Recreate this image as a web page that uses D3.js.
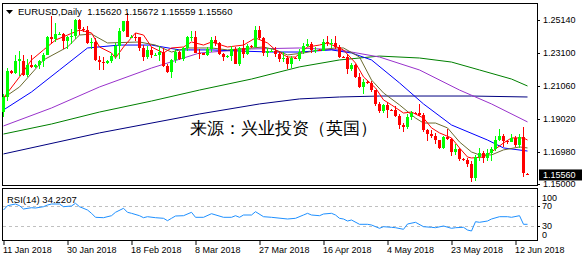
<!DOCTYPE html>
<html>
<head>
<meta charset="utf-8">
<script src="https://cdn.jsdelivr.net/npm/d3@7"></script>
<style>
  body { margin: 0; background: #fff; }
  text { font-family: "Liberation Sans", Arial, sans-serif; }
</style>
</head>
<body>
<svg id="chart" width="582" height="260"></svg>
<script>
// daily EURUSD bars, 11 Jan 2018 .. 15 Jun 2018 (broker has Sunday bars)
const opens = [1.1945,1.2035,1.2198,1.2188,1.2263,1.2262,1.2177,1.2236,1.2221,1.2235,1.2260,1.2300,1.2407,1.2395,1.2427,1.2430,1.2383,1.2409,1.2414,1.2512,
  1.2461,1.2450,1.2369,1.2377,1.2264,1.2252,1.2250,1.2260,1.2291,1.2352,1.2449,1.2506,1.2407,1.2410,1.2409,1.2340,1.2286,1.2328,1.2295,1.2300,
  1.2317,1.2232,1.2194,1.2267,1.2317,1.2275,1.2339,1.2407,1.2410,1.2313,1.2307,1.2300,1.2336,1.2389,1.2369,1.2302,1.2287,1.2290,1.2337,1.2239,
  1.2340,1.2302,1.2352,1.2350,1.2450,1.2405,1.2310,1.2321,1.2325,1.2302,1.2270,1.2276,1.2240,1.2281,1.2275,1.2319,1.2355,1.2368,1.2327,1.2330,
  1.2325,1.2381,1.2371,1.2374,1.2347,1.2288,1.2285,1.2210,1.2234,1.2164,1.2102,1.2130,1.2125,1.2079,1.1993,1.1953,1.1987,1.1959,1.1955,1.1922,
  1.1865,1.1853,1.1917,1.1942,1.1940,1.1925,1.1836,1.1809,1.1795,1.1770,1.1725,1.1791,1.1778,1.1697,1.1719,1.1652,1.1650,1.1623,1.1538,1.1664,
  1.1693,1.1659,1.1694,1.1719,1.1774,1.1799,1.1767,1.1760,1.1782,1.1743,1.1793,1.1562];
const highs = [1.2059,1.2219,1.2203,1.2297,1.2323,1.2296,1.2272,1.2296,1.2240,1.2266,1.2308,1.2415,1.2537,1.2494,1.2440,1.2436,1.2414,1.2459,1.2520,1.2520,
  1.2470,1.2477,1.2403,1.2401,1.2294,1.2288,1.2266,1.2310,1.2370,1.2465,1.2510,1.2555,1.2420,1.2435,1.2410,1.2361,1.2353,1.2345,1.2310,1.2355,
  1.2338,1.2245,1.2273,1.2336,1.2320,1.2345,1.2413,1.2447,1.2446,1.2336,1.2310,1.2345,1.2409,1.2413,1.2377,1.2309,1.2295,1.2356,1.2345,1.2350,
  1.2388,1.2363,1.2360,1.2476,1.2477,1.2406,1.2340,1.2335,1.2345,1.2316,1.2316,1.2291,1.2294,1.2285,1.2333,1.2373,1.2396,1.2376,1.2346,1.2335,
  1.2396,1.2414,1.2398,1.2414,1.2359,1.2292,1.2301,1.2250,1.2240,1.2189,1.2147,1.2135,1.2139,1.2084,1.2010,1.1996,1.2009,1.1965,1.1980,1.1930,
  1.1875,1.1934,1.1954,1.1945,1.1997,1.1938,1.1841,1.1833,1.1815,1.1775,1.1795,1.1838,1.1782,1.1750,1.1724,1.1660,1.1660,1.1640,1.1680,1.1723,
  1.1704,1.1718,1.1726,1.1796,1.1840,1.1809,1.1775,1.1810,1.1795,1.1810,1.1852,1.15672];
const lows = [1.1916,1.2013,1.2180,1.2181,1.2166,1.2165,1.2161,1.2216,1.2215,1.2212,1.2225,1.2295,1.2366,1.2380,1.2420,1.2337,1.2336,1.2368,1.2395,1.2423,
  1.2440,1.2368,1.2334,1.2258,1.2206,1.2205,1.2245,1.2247,1.2275,1.2272,1.2437,1.2406,1.2400,1.2383,1.2322,1.2260,1.2275,1.2278,1.2290,1.2262,
  1.2221,1.2188,1.2155,1.2247,1.2265,1.2260,1.2320,1.2386,1.2310,1.2272,1.2295,1.2290,1.2318,1.2355,1.2295,1.2258,1.2280,1.2260,1.2240,1.2231,
  1.2281,1.2296,1.2340,1.2345,1.2392,1.2291,1.2286,1.2315,1.2283,1.2254,1.2255,1.2214,1.2215,1.2270,1.2262,1.2305,1.2346,1.2307,1.2311,1.2320,
  1.2320,1.2355,1.2339,1.2337,1.2276,1.2280,1.2183,1.2196,1.2155,1.2093,1.2054,1.2120,1.2071,1.1984,1.1938,1.1937,1.1910,1.1950,1.1913,1.1838,
  1.1822,1.1838,1.1898,1.1935,1.1921,1.1821,1.1763,1.1782,1.1750,1.1715,1.1715,1.1771,1.1676,1.1677,1.1643,1.1640,1.1605,1.1510,1.1520,1.1640,
  1.1632,1.1645,1.1644,1.1707,1.1766,1.1726,1.1750,1.1757,1.1729,1.1725,1.1542,1.15559];
const closes = [1.2035,1.2198,1.2188,1.2263,1.2270,1.2177,1.2236,1.2221,1.2235,1.2260,1.2300,1.2407,1.2395,1.2427,1.2430,1.2383,1.2409,1.2414,1.2512,1.2461,
  1.2450,1.2369,1.2377,1.2264,1.2252,1.2250,1.2260,1.2291,1.2352,1.2449,1.2506,1.2407,1.2410,1.2409,1.2340,1.2286,1.2328,1.2295,1.2300,1.2317,
  1.2232,1.2194,1.2267,1.2317,1.2275,1.2339,1.2407,1.2410,1.2313,1.2307,1.2300,1.2336,1.2389,1.2369,1.2302,1.2287,1.2290,1.2337,1.2239,1.2340,
  1.2302,1.2352,1.2350,1.2450,1.2405,1.2310,1.2321,1.2325,1.2302,1.2270,1.2276,1.2240,1.2281,1.2275,1.2319,1.2355,1.2368,1.2327,1.2330,1.2325,
  1.2381,1.2371,1.2374,1.2347,1.2288,1.2285,1.2210,1.2234,1.2164,1.2102,1.2130,1.2125,1.2079,1.1993,1.1953,1.1987,1.1959,1.1955,1.1922,1.1865,
  1.1853,1.1917,1.1942,1.1940,1.1925,1.1836,1.1809,1.1795,1.1770,1.1725,1.1791,1.1778,1.1697,1.1719,1.1652,1.1650,1.1623,1.1538,1.1664,1.1693,
  1.1659,1.1694,1.1719,1.1774,1.1799,1.1767,1.1760,1.1782,1.1743,1.1793,1.1567,1.1556];

// moving averages: [bar index, price]
const maFast = [[0,1.2032],[4,1.2162],[7,1.2267],[10,1.2329],[13,1.2390],[16,1.2421],[19,1.2452],[22,1.2434],[24,1.2347],[27,1.2310],[28,1.2279],
  [30,1.2347],[33,1.2434],[35,1.2421],[37,1.2347],[40,1.2310],[42,1.2341],[45,1.2347],[47,1.2378],[50,1.2359],[52,1.2378],[56,1.2347],[60,1.2359],
  [63,1.2403],[66,1.2372],[68,1.2329],[71,1.2285],[73,1.2285],[76,1.2347],[79,1.2359],[81,1.2372],[85,1.2329],[88,1.2248],[90,1.2162],[93,1.2094],
  [95,1.2020],[97,1.1989],[100,1.1939],[102,1.1945],[105,1.1908],[107,1.1847],[109,1.1816],[112,1.1785],[114,1.1723],[116,1.1667],[117,1.1661],
  [120,1.1667],[122,1.1698],[125,1.1754],[127,1.1785],[130,1.1785],[131,1.1772]];
const maOlive = [[0,1.2032],[4,1.2100],[10,1.2267],[16,1.2347],[19,1.2421],[22,1.2427],[26,1.2372],[34,1.2378],[38,1.2359],[42,1.2316],[46,1.2341],
  [52,1.2341],[56,1.2329],[62,1.2341],[65,1.2347],[68,1.2329],[71,1.2298],[75,1.2310],[79,1.2329],[83,1.2341],[85,1.2341],[89,1.2285],[92,1.2143],
  [95,1.2063],[99,1.1989],[103,1.1908],[105,1.1877],[108,1.1877],[111,1.1847],[114,1.1760],[117,1.1698],[119,1.1680],[122,1.1680],[125,1.1711],
  [129,1.1729],[131,1.1723]];
const maBlue = [[0,1.1958],[7,1.2069],[14,1.2205],[21,1.2341],[29,1.2359],[37,1.2359],[44,1.2329],[52,1.2329],[59,1.2322],[67,1.2316],[74,1.2316],
  [82,1.2329],[87,1.2310],[92,1.2267],[99,1.2125],[105,1.1995],[112,1.1865],[121,1.1772],[125,1.1723],[131,1.1704]];
const maPurple = [[0,1.1859],[12,1.1970],[24,1.2100],[37,1.2217],[49,1.2310],[62,1.2335],[74,1.2341],[84,1.2329],[94,1.2285],[104,1.2205],
  [114,1.2081],[122,1.1995],[131,1.1884]];
const maGreen = [[0,1.1809],[12,1.1871],[24,1.1945],[37,1.2013],[49,1.2081],[62,1.2149],[74,1.2224],[84,1.2267],[94,1.2291],[104,1.2279],
  [112,1.2254],[119,1.2205],[127,1.2149],[131,1.2106]];
const maNavy = [[0,1.1686],[24,1.1816],[49,1.1933],[64,1.1995],[74,1.2026],[84,1.2038],[94,1.2044],[117,1.2044],[131,1.2038]];

// RSI(14): [bar index, value]
const rsi = [[0,62],[1,70.6],[3,74],[4,70.6],[5,64],[7,66.6],[8,66],[10,68.6],[11,72],[12,74],[14,74],[15,68.6],[17,70],[18,75.4],[19,68.6],
  [21,62],[22,55.4],[23,47.4],[25,46.6],[27,50.6],[28,57.4],[30,65.4],[31,57.4],[32,55.4],[34,50.6],[35,46.6],[36,48.6],[38,46.6],[40,45.4],
  [41,40.6],[42,45.4],[43,50],[45,50.6],[47,57.4],[48,47.4],[50,47.4],[52,54.6],[55,47.4],[57,47.4],[58,50.6],[59,47.4],[60,52],[62,52],
  [63,58.6],[65,48.6],[67,47.4],[71,44],[73,45.4],[75,52],[76,55.4],[77,52],[79,50.6],[80,54],[82,55.4],[83,52],[84,45.4],[85,44],[86,40],
  [87,42],[89,33.4],[91,33.4],[92,32],[94,25.4],[95,28.6],[97,27.4],[98,26.6],[100,23.4],[101,34],[103,37.4],[105,28.6],[107,27.4],[108,26.6],
  [110,30],[112,25.4],[113,26.6],[115,27.4],[116,22],[117,20],[118,38.6],[119,37.4],[121,40],[122,44],[124,48.6],[126,48.6],[127,47.4],
  [129,50.6],[130,33.4],[131,33.4]];

const priceTicks = [1.2514, 1.2310, 1.2106, 1.1902, 1.1698, 1.1500];
const rsiTicks = [100, 70, 30, 0];
const rsiLevels = [70, 30];
const dateTickIdx = [0, 16, 32, 48, 64, 80, 96, 112, 128];
const dateTickLabels = ['11 Jan 2018', '30 Jan 2018', '18 Feb 2018', '8 Mar 2018', '27 Mar 2018',
  '16 Apr 2018', '4 May 2018', '23 May 2018', '12 Jun 2018'];
const title = 'EURUSD,Daily  1.15620 1.15672 1.15559 1.15560';
const rsiTitle = 'RSI(14) 34.2207';
const watermark = '来源：兴业投资（英国）';
const lastPrice = 1.1556;

const svg = d3.select('#chart');
const L = 2, R = 537, T = 3, B = 185, RT = 188, RB = 240;

const x = d3.scaleLinear().domain([0, 131]).range([3, 527]);
const y = d3.scaleLinear().domain([1.1494, 1.2619]).range([B, T]);
const yr = d3.scaleLinear().domain([0, 100]).range([241, 191]);

// panels
svg.append('rect').attr('x', L + 0.5).attr('y', T + 0.5).attr('width', R - L).attr('height', B - T)
  .attr('fill', 'none').attr('stroke', '#000');
svg.append('rect').attr('x', L + 0.5).attr('y', RT + 0.5).attr('width', R - L).attr('height', RB - RT)
  .attr('fill', 'none').attr('stroke', '#000');

// watermark
svg.append('text').attr('x', 283).attr('y', 134).attr('text-anchor', 'middle')
  .attr('font-family', '"Noto Sans CJK SC", sans-serif').attr('font-size', 17)
  .attr('fill', '#000').text(watermark);

// moving averages
const maLine = d3.line().x(d => x(d[0]) + 0.5).y(d => y(d[1]));
const mas = [[maNavy, '#000080'], [maGreen, '#008000'], [maPurple, '#9932cc'],
  [maBlue, '#0000ff'], [maOlive, '#6b6b2f'], [maFast, '#ff0000']];
mas.forEach(([d, c]) => {
  svg.append('path').datum(d).attr('d', maLine).attr('fill', 'none')
    .attr('stroke', c).attr('stroke-width', 1);
});

// candles
const bars = d3.range(closes.length);
const col = i => closes[i] >= opens[i] ? '#00ff00' : '#ff0000';
const g = svg.append('g').attr('shape-rendering', 'crispEdges');
g.selectAll('line.wick').data(bars).join('line')
  .attr('x1', i => Math.round(x(i)) + 0.5).attr('x2', i => Math.round(x(i)) + 0.5)
  .attr('y1', i => y(highs[i])).attr('y2', i => y(lows[i]))
  .attr('stroke', col);
g.selectAll('rect.body').data(bars).join('rect')
  .attr('x', i => Math.round(x(i)) - 1)
  .attr('width', 3)
  .attr('y', i => Math.min(y(opens[i]), y(closes[i])))
  .attr('height', i => Math.max(1, Math.abs(y(opens[i]) - y(closes[i]))))
  .attr('fill', col);

// price axis
const ya = svg.append('g').attr('transform', `translate(${R},0)`)
  .call(d3.axisRight(y).tickValues(priceTicks).tickFormat(d3.format('.5f')).tickSize(3).tickPadding(3));
ya.select('.domain').remove();
ya.selectAll('text').attr('font-size', 9).attr('fill', '#000').attr('font-family', '"Liberation Sans", Arial, sans-serif');

// last price box
svg.append('rect').attr('x', 539).attr('y', y(lastPrice) - 5.5).attr('width', 43).attr('height', 11).attr('fill', '#000');
svg.append('text').attr('x', 543).attr('y', y(lastPrice) + 3.2).attr('font-size', 9).attr('fill', '#fff')
  .text(d3.format('.5f')(lastPrice));

// title
svg.append('path').attr('d', 'M6,10 L13,10 L9.5,14 Z').attr('fill', '#000');
svg.append('text').attr('x', 18).attr('y', 15).attr('font-size', 9.5).attr('xml:space', 'preserve')
  .attr('fill', '#000').text(title);

// RSI
svg.selectAll('line.lvl').data(rsiLevels).join('line')
  .attr('x1', L + 1).attr('x2', R).attr('y1', d => yr(d) + 0.5).attr('y2', d => yr(d) + 0.5)
  .attr('stroke', '#c0c0c0').attr('stroke-dasharray', '3,3');
svg.append('path').datum(rsi)
  .attr('d', d3.line().x(d => x(d[0]) + 0.5).y(d => yr(d[1])))
  .attr('fill', 'none').attr('stroke', '#1e90ff').attr('stroke-width', 1);
svg.append('text').attr('x', 7).attr('y', 203).attr('font-size', 9.5).attr('fill', '#000').text(rsiTitle);

const ra = svg.append('g').attr('transform', `translate(${R},0)`)
  .call(d3.axisRight(yr).tickValues(rsiTicks).tickSize(3).tickPadding(2));
ra.select('.domain').remove();
ra.selectAll('text').attr('font-size', 9).attr('fill', '#000').attr('font-family', '"Liberation Sans", Arial, sans-serif')
  .attr('y', d => d === 100 ? 6.5 : (d === 0 ? -6 : 0));
ra.selectAll('line').attr('display', d => (d === 100 || d === 0) ? 'none' : null);

// date axis
const xa = svg.append('g').attr('transform', `translate(0,${RB + 1})`)
  .call(d3.axisBottom(x).tickValues(dateTickIdx).tickFormat((d, k) => dateTickLabels[k]).tickSize(4));
xa.select('.domain').remove();
xa.selectAll('.tick line').attr('transform', 'translate(0.5,0)');
xa.selectAll('text').attr('font-size', 9).attr('fill', '#000').attr('text-anchor', 'start')
  .attr('font-family', '"Liberation Sans", Arial, sans-serif').attr('dx', -0.5).attr('y', 6);
</script>
</body>
</html>
